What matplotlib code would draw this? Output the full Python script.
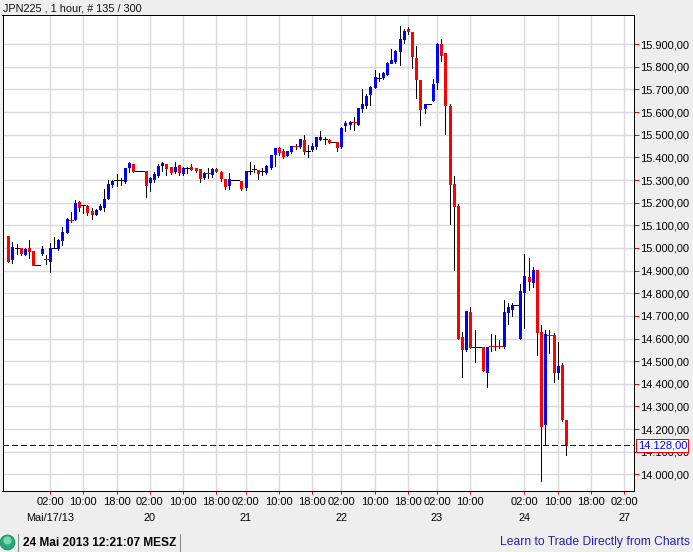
import numpy as np
import matplotlib
matplotlib.use('Agg')
import matplotlib.pyplot as plt

plt.rcParams['font.family'] = ['Liberation Sans', 'DejaVu Sans']

# hourly bars
opens = [15055, 14953, 15000, 15001, 14975, 15001, 14988, 14925, 14979, 14953,
         14944, 15000, 15001, 15037, 15072, 15125, 15130, 15205, 15190, 15187,
         15165, 15152, 15172, 15183, 15219, 15284, 15299, 15302, 15298, 15359,
         15373, 15340, 15340, 15340, 15293, 15306, 15324, 15368, 15373, 15359,
         15342, 15368, 15333, 15355, 15358, 15355, 15351, 15315, 15332, 15328,
         15351, 15337, 15306, 15280, 15300, 15300, 15298, 15271, 15339, 15348,
         15346, 15340, 15337, 15359, 15417, 15443, 15430, 15412, 15430, 15451,
         15452, 15479, 15429, 15435, 15452, 15483, 15483, 15479, 15468, 15470,
         15452, 15541, 15549, 15558, 15549, 15620, 15633, 15678, 15713, 15750,
         15753, 15770, 15819, 15828, 15868, 15925, 15965, 15956, 15841, 15744,
         15620, 15636, 15655, 15731, 15903, 15859, 15629, 15284, 15187, 14608,
         14555, 14719, 14564, 14564, 14564, 14454, 14570, 14568, 14568, 14568,
         14719, 14732, 14748, 14604, 14807, 14873, 14851, 14904, 14630, 14224,
         14620, 14617, 14454, 14484, 14241]
highs = [15055, 15028, 15019, 15001, 15000, 15037, 14988, 14925, 15010, 14971,
         15024, 15050, 15041, 15094, 15134, 15161, 15214, 15209, 15190, 15190,
         15178, 15174, 15196, 15262, 15302, 15302, 15328, 15311, 15355, 15381,
         15373, 15340, 15340, 15340, 15315, 15337, 15373, 15381, 15373, 15359,
         15381, 15368, 15359, 15359, 15373, 15355, 15351, 15337, 15355, 15355,
         15355, 15342, 15306, 15333, 15300, 15300, 15298, 15342, 15381, 15368,
         15346, 15355, 15368, 15412, 15443, 15448, 15435, 15430, 15452, 15461,
         15483, 15501, 15457, 15465, 15488, 15518, 15488, 15483, 15468, 15470,
         15536, 15563, 15563, 15580, 15620, 15704, 15682, 15717, 15784, 15775,
         15779, 15823, 15881, 15876, 15982, 15969, 15974, 15956, 15894, 15744,
         15638, 15636, 15748, 15907, 15921, 15859, 15638, 15320, 15196, 14630,
         14723, 14741, 14639, 14564, 14564, 14564, 14621, 14617, 14595, 14772,
         14758, 14758, 14748, 14842, 14975, 14957, 14918, 14904, 14661, 14639,
         14639, 14626, 14586, 14493, 14241]
lows = [14937, 14935, 14975, 14971, 14971, 14956, 14923, 14925, 14971, 14931,
        14895, 15000, 14990, 15015, 15068, 15116, 15125, 15165, 15155, 15147,
        15130, 15147, 15169, 15165, 15218, 15271, 15275, 15280, 15289, 15337,
        15337, 15340, 15340, 15227, 15253, 15293, 15315, 15342, 15324, 15328,
        15333, 15324, 15324, 15333, 15346, 15337, 15293, 15306, 15311, 15315,
        15337, 15298, 15262, 15262, 15300, 15300, 15258, 15258, 15328, 15337,
        15306, 15324, 15328, 15351, 15364, 15412, 15399, 15408, 15421, 15435,
        15443, 15417, 15404, 15430, 15439, 15479, 15461, 15465, 15468, 15430,
        15443, 15518, 15527, 15523, 15545, 15602, 15620, 15633, 15708, 15739,
        15748, 15766, 15815, 15815, 15806, 15907, 15947, 15797, 15664, 15541,
        15594, 15636, 15647, 15704, 15828, 15505, 15108, 14904, 14599, 14431,
        14546, 14560, 14498, 14564, 14458, 14387, 14546, 14551, 14560, 14560,
        14666, 14701, 14748, 14599, 14648, 14816, 14829, 14529, 13972, 14135,
        14537, 14409, 14423, 14237, 14087]
closes = [14944, 15006, 15000, 14979, 14997, 14985, 14926, 14925, 14997, 14952,
          15001, 15000, 15037, 15072, 15130, 15123, 15200, 15183, 15190, 15161,
          15152, 15169, 15187, 15218, 15284, 15295, 15299, 15302, 15355, 15377,
          15342, 15340, 15340, 15280, 15311, 15328, 15364, 15377, 15355, 15337,
          15359, 15337, 15355, 15355, 15351, 15346, 15311, 15333, 15330, 15351,
          15342, 15311, 15275, 15306, 15300, 15300, 15267, 15342, 15339, 15348,
          15333, 15340, 15364, 15412, 15443, 15426, 15408, 15430, 15452, 15449,
          15483, 15430, 15429, 15452, 15488, 15488, 15483, 15470, 15468, 15448,
          15532, 15554, 15558, 15556, 15620, 15638, 15673, 15713, 15757, 15750,
          15775, 15819, 15832, 15872, 15925, 15960, 15957, 15846, 15748, 15616,
          15638, 15636, 15726, 15903, 15854, 15633, 15284, 15187, 14604, 14555,
          14723, 14564, 14564, 14564, 14462, 14564, 14568, 14566, 14566, 14719,
          14741, 14750, 14748, 14811, 14878, 14856, 14904, 14630, 14215, 14621,
          14617, 14454, 14480, 14246, 14128]

last_price = 14128
price_ticks = list(range(14000, 16000, 100))
time_idx = [10, 18, 26, 34, 42, 50, 57, 65, 73, 80, 88, 96, 103, 111, 124, 132, 140, 148]
time_labels = ['02:00', '10:00', '18:00', '02:00', '10:00', '18:00', '02:00', '10:00', '18:00',
               '02:00', '10:00', '18:00', '02:00', '10:00', '02:00', '10:00', '18:00', '02:00']
day_idx = [10, 34, 57, 80, 103, 124, 148]
day_labels = ['Mai/17/13', '20', '21', '22', '23', '24', '27']

W, H = 693, 552
BG = '#eeeeee'
GRID = '#d9d9d9'
UP = '#0000ff'
DOWN = '#ff0000'


def german(p):
    return f'{p:,.2f}'.replace(',', 'X').replace('.', ',').replace('X', '.')


opens = np.array(opens)
highs = np.array(highs)
lows = np.array(lows)
closes = np.array(closes)
idx = np.arange(len(opens))

fig = plt.figure(figsize=(W / 100, H / 100), dpi=100, facecolor=BG)
ax = fig.add_axes([2.5 / W, 1 - 490.5 / H, (633.5 - 2.5) / W, (490.5 - 15) / H])
ax.set_xlim(-1.4, 150.2)
ax.set_ylim(13929, 16029)

ax.set_axisbelow(True)
ax.grid(True, color=GRID, linewidth=1.0)

# wicks, then bodies (thick lines keep every body the same pixel width)
ax.vlines(idx, lows, highs, color='black', linewidth=0.72, antialiased=False, zorder=2)
up = closes > opens
down = closes < opens
big = np.abs(closes - opens) > 4
ax.vlines(idx[up & big], opens[up & big], closes[up & big], color=UP, linewidth=2.16,
          capstyle='butt', antialiased=False, zorder=3)
ax.vlines(idx[down & big], closes[down & big], opens[down & big], color=DOWN, linewidth=2.16,
          capstyle='butt', antialiased=False, zorder=3)
# dojis are just a dash
flat = closes == opens
small = down & ~big
ax.hlines(closes[flat], idx[flat] - 0.5, idx[flat] + 0.5, color='black', linewidth=0.72,
          antialiased=False, zorder=3)
ax.hlines(closes[small], idx[small] - 0.5, idx[small] + 0.5, color=DOWN, linewidth=0.72,
          antialiased=False, zorder=3)

ax.axhline(last_price, color='#0000c8', linewidth=0.72, dashes=(5.5, 4), antialiased=False, zorder=4)

for side in ax.spines.values():
    side.set_linewidth(0.72)
    side.set_color('black')

ax.yaxis.tick_right()
ax.set_yticks(price_ticks)
ax.set_yticklabels([german(p) for p in price_ticks])
ax.tick_params(axis='y', length=3.5, width=0.72, color=DOWN, labelsize=8.0, pad=1.0, labelcolor='black')
ax.set_xticks(time_idx)
ax.set_xticklabels(time_labels)
ax.tick_params(axis='x', length=2, width=0.72, color=DOWN, labelsize=8.0, pad=3.0, labelcolor='black')

# current price box on the axis
ax.annotate(german(last_price), xy=(1, last_price), xycoords=('axes fraction', 'data'),
            xytext=(3, 0), textcoords='offset points', va='center', ha='left', fontsize=8.0,
            color='#0000ff',
            bbox=dict(boxstyle='square,pad=0.12', facecolor='white', edgecolor=DOWN, linewidth=0.72),
            annotation_clip=False, zorder=6)

# day labels under the hours
trans = ax.get_xaxis_transform()
for i, label in zip(day_idx, day_labels):
    ax.annotate(label, xy=(i, 0), xycoords=trans, xytext=(0, -16.5), textcoords='offset points',
                ha='center', va='top', fontsize=7.8, color='black', annotation_clip=False)

# title and status bar, placed in figure pixels
fig.text(3 / W, 1 - 8.5 / H, 'JPN225 , 1 hour, # 135 / 300', fontsize=7.8, va='center', ha='left', color='#111111')
fig.text(23 / W, 1 - 543 / H, '24 Mai 2013 12:21:07 MESZ', fontsize=8.6, fontweight='bold', va='center', ha='left', color='black')
fig.text(690 / W, 1 - 542.5 / H, 'Learn to Trade Directly from Charts', fontsize=8.7, va='center', ha='right', color='#2222aa')

overlay = fig.add_axes([0, 0, 1, 1], facecolor='none')
overlay.set_xlim(0, W)
overlay.set_ylim(H, 0)
overlay.axis('off')
overlay.plot([17.5, 17.5], [534, 552], color='#888888', linewidth=0.72)
overlay.plot([179.5, 179.5], [534, 552], color='#888888', linewidth=0.72)
overlay.scatter([7], [541.5], s=115, color='#2aa876', edgecolor='#1a8a5e', linewidth=0.6)
overlay.scatter([6.5], [540], s=35, color='#78d8b0', linewidth=0)

fig.savefig('out.png', dpi=100, facecolor=BG)
